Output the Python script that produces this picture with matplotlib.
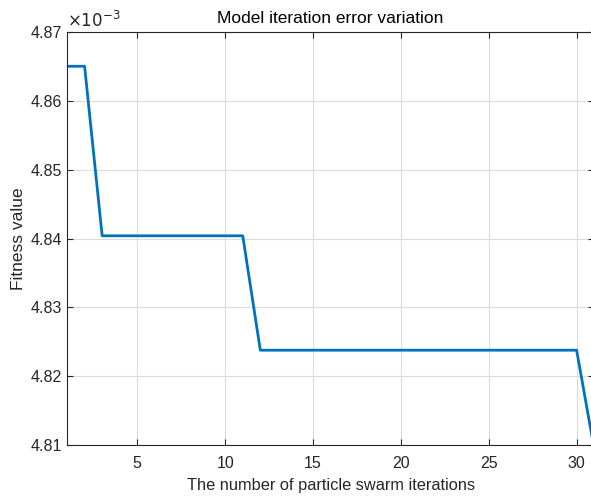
import numpy as np
import matplotlib.pyplot as plt

plt.rcParams['font.family'] = ['Liberation Sans', 'DejaVu Sans']

# fitness per iteration (x1e-3)
iters = np.arange(1, 32)
fitness = np.array([4.8650, 4.8650] + [4.8404] * 9 + [4.8238] * 19 + [4.8095]) * 1e-3

fig = plt.figure(figsize=(5.91, 4.97), dpi=100)
ax = fig.add_axes([0.1134, 0.104, 0.892, 0.832])

ax.plot(iters, fitness * 1e3, color='#0072BD', lw=2)

ax.set_xlim(1, 31)
ax.set_ylim(4.81, 4.87)
ax.set_xticks([5, 10, 15, 20, 25, 30])
ax.set_yticks([4.81, 4.82, 4.83, 4.84, 4.85, 4.86, 4.87])
ax.set_yticklabels(['4.81', '4.82', '4.83', '4.84', '4.85', '4.86', '4.87'])
ax.grid(True, color='#dcdcdc', lw=0.8)
ax.tick_params(direction='in', labelsize=11.5, length=4, colors='#262626',
               top=True, right=True)
ax.tick_params(axis='x', pad=7.5)
for s in ax.spines.values():
    s.set_color('#262626')
    s.set_linewidth(0.8)

ax.set_title('Model iteration error variation', fontsize=12.5, color='#000000', pad=6)
ax.set_xlabel('The number of particle swarm iterations', fontsize=11.8, color='#262626', labelpad=5)
ax.set_ylabel('Fitness value', fontsize=12.5, color='#262626', labelpad=3)
ax.text(0.0, 1.005, r'$\times10^{-3}$', transform=ax.transAxes, fontsize=12,
        va='bottom', ha='left', color='#262626')

fig.savefig('out.png', dpi=100)
